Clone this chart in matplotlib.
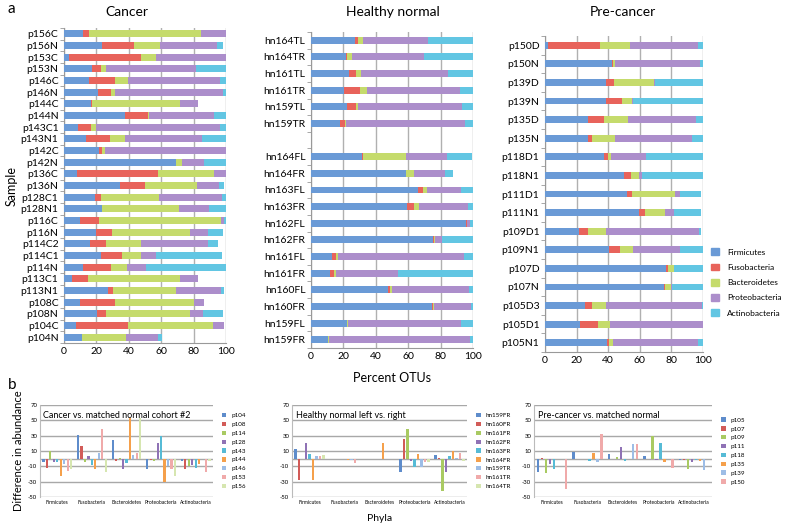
import matplotlib
matplotlib.use("Agg")
import matplotlib.pyplot as plt
import numpy as np

plt.rcParams['font.family'] = ['Lato', 'DejaVu Sans']

W, H = 794, 528

phyla = ['Firmicutes', 'Fusobacteria', 'Bacteroidetes', 'Proteobacteria', 'Actinobacteria']
phyla_colors = ['#6A9AD6', '#E8635B', '#C5DB6C', '#AC8ECB', '#62C6E3']

# --- panel a: cancer (top to bottom) ---
cancer_samples = ['p156C', 'p156N', 'p153C', 'p153N', 'p146C', 'p146N', 'p144C', 'p144N',
                  'p143C1', 'p143N1', 'p142C', 'p142N', 'p136C', 'p136N', 'p128C1', 'p128N1',
                  'p116C', 'p116N', 'p114C2', 'p114C1', 'p114N', 'p113C1', 'p113N1', 'p108C',
                  'p108N', 'p104C', 'p104N']
cancer_firm = [11.5, 23.3, 3, 17.5, 15.5, 20.8, 16.5, 37.9, 8.9, 13.6, 21.6, 69, 8.2, 34.6, 19.2,
               23.3, 9.9, 19.8, 16.1, 22.9, 12, 5.2, 27.4, 9.9, 20.6, 7.2, 10.9]
cancer_fuso = [4, 20, 44.4, 5.4, 16, 8.2, 0.8, 13.9, 7.6, 14.9, 2.1, 0.2, 49.8, 15.5, 3.5,
               0.2, 11.7, 10.1, 9.9, 13, 17, 9.4, 2.7, 21.6, 5.4, 32.2, 0]
cancer_bact = [69.2, 15.7, 9.5, 2.9, 7.7, 2.5, 54, 0.8, 3.5, 9.2, 1.9, 3.8, 34.8, 31.9, 35.7,
               47.6, 75.3, 47.6, 21.6, 11.7, 9.6, 57.2, 38.8, 48.9, 51.9, 52.4, 27.5]
cancer_prot = [15.3, 35.4, 43.1, 55.8, 57.3, 66.4, 11.4, 39.8, 76.3, 47.5, 74.4, 13.6, 7.2, 13.7,
               39.3, 18.6, 2.1, 11.6, 41.5, 9.3, 12.1, 10.7, 28, 6.2, 7.7, 6.8, 19.7]
cancer_acti = [0, 3.7, 0, 18.4, 3.5, 2.1, 0, 7.6, 3.7, 14.8, 0, 13.4, 0, 3.3, 2.3,
               10.3, 1, 9, 5.7, 40.8, 49.3, 0, 2.1, 0, 12.5, 0, 2.7]

# --- panel a: healthy normal (blank row separates T and F) ---
healthy_samples = ['hn164TL', 'hn164TR', 'hn161TL', 'hn161TR', 'hn159TL', 'hn159TR', '',
                   'hn164FL', 'hn164FR', 'hn163FL', 'hn163FR', 'hn162FL', 'hn162FR',
                   'hn161FL', 'hn161FR', 'hn160FL', 'hn160FR', 'hn159FL', 'hn159FR']
healthy_firm = [27.3, 21.5, 23.6, 20.2, 22.3, 17.8, 0, 31.6, 58.7, 66.1, 59.1, 95.9, 75.6,
                12.8, 11.6, 47.7, 74.6, 22.3, 10.5]
healthy_fuso = [1.8, 0.8, 4.1, 10, 5.2, 2.9, 0, 0.2, 0, 3.1, 4.5, 0.3, 0.4, 2.5, 2.7, 1.1,
                0.4, 0.2, 0.3]
healthy_bact = [2.7, 2.9, 3.3, 4.1, 1.8, 0.6, 0, 26.9, 4.9, 2.7, 2.9, 0.3, 0.4, 1.6, 1, 1,
                1, 0.6, 0.4]
healthy_prot = [40.5, 44.6, 53.5, 57.8, 64.1, 73.9, 0, 25.2, 19, 20.5, 30.6, 1.4, 4.4, 77.7,
                38.4, 47.9, 23, 69.5, 86.7]
healthy_acti = [27.7, 30.2, 15.5, 7.9, 6.6, 4.8, 0, 15.3, 4.8, 7.6, 2.9, 2.1, 19.2, 5.4,
                46.3, 2.3, 1, 7.4, 2.1]

# --- panel a: pre-cancer ---
pre_samples = ['p150D', 'p150N', 'p139D', 'p139N', 'p135D', 'p135N', 'p118D1', 'p118N1',
               'p111D1', 'p111N1', 'p109D1', 'p109N1', 'p107D', 'p107N', 'p105D3', 'p105D1',
               'p105N1']
pre_firm = [1.9, 42.7, 38.7, 38.7, 27.5, 27.1, 37.4, 50.3, 51.8, 59.6, 21.4, 40.6, 76.5, 75.5,
            25.4, 22.2, 39.5]
pre_fuso = [32.6, 0.5, 5.1, 9.9, 10.1, 2.7, 2.6, 4.2, 3.4, 4, 6.1, 7, 1.1, 0.6, 4.2, 11.4, 1.3]
pre_bact = [19.6, 0.8, 24.9, 6.6, 15, 14.6, 1.6, 4.7, 26.8, 12.1, 11.2, 8.4, 3.8, 3.8, 8.9,
            7.6, 2.1]
pre_prot = [42.9, 54.1, 1.1, 0.4, 43, 48.4, 22.4, 2.1, 3.6, 5.7, 59, 29.6, 0.2, 0.4, 60.7,
            58.8, 54.1]
pre_acti = [3, 1.9, 30.2, 44.4, 4.4, 7.2, 36, 38.7, 13.3, 17.5, 1.2, 14.4, 18.4, 19.7, 0.8,
            0, 3]

# --- panel b: differences in abundance ---
diff_phyla = ['Firmicutes', 'Fusobacteria', 'Bacteroidetes', 'Proteobacteria', 'Actinobacteria']

cohort2_series = ['p104', 'p108', 'p114', 'p128', 'p143', 'p144', 'p146', 'p153', 'p156']
cohort2_values = [
    [-4, 31, 24, -14, -3],     # p104
    [-12, 16, -3, -2, -13],    # p108
    [10, -5, 1, -3, -9],       # p114
    [-5, 3, -13, 21, -8],      # p128
    [-5, -8, -6, 29, -12],     # p143
    [-23, -13, 53, -30, -7],   # p144
    [-7, 7, 5, -10, 0],        # p146
    [-16, 39, 7, -14, -18],    # p153
    [-13, -17, 53, -22, -3],   # p156
]

hlr_series = ['hn159FR', 'hn160FR', 'hn161FR', 'hn162FR', 'hn163FR', 'hn164FR',
              'hn159TR', 'hn161TR', 'hn164TR']
hlr_values = [
    [12, -1, 0, -18, 5],
    [-28, -1, 0, 25, 1],
    [0, -0.5, 0, 39, -42],
    [20, -1, 0, -3, -18],
    [6, -0.5, 0, -11, 4],
    [-28, -1.5, 21, 6, 10],
    [4, -2, -1, -11, 1],
    [3, -6, 0, -5, 7],
    [5, 0, 0, -5, -3],
]

pcn_series = ['p105', 'p107', 'p109', 'p111', 'p118', 'p135', 'p139', 'p150']
pcn_values = [
    [-17, 9, 6, 4, -2],
    [0.5, -1, 0, 0, -2],
    [-19, -1, 2, 30, -13],
    [-7, -1, 15, -2, -5],
    [-13, -3, -3, 20, -2],
    [0, 7, 0, -5, -3],
    [0, -5, 19, 0, -15],
    [-40, 32, 19, -12, 0],
]

diff_colors = ['#5E8CCB', '#D25B58', '#A9CA62', '#8F72B5', '#56BBD6', '#F5A04B',
               '#9DBDE6', '#F0AAAA', '#D6E6B0']


def px_axes(fig, x0, y0, x1, y1):
    return fig.add_axes([x0 / W, 1 - y1 / H, (x1 - x0) / W, (y1 - y0) / H])


def stacked_panel(ax, samples, parts, bar_h):
    n = len(samples)
    y = np.arange(n)
    left = np.zeros(n)
    for vals, col in zip(parts, phyla_colors):
        vals = np.array(vals, dtype=float)
        ax.barh(y, vals, left=left, height=bar_h, color=col, edgecolor='none', zorder=3)
        left += vals
    ax.set_ylim(n - 0.5, -0.5)
    ax.set_xlim(0, 100)
    ax.set_xticks([0, 20, 40, 60, 80, 100])
    ax.set_yticks(y)
    ax.set_yticklabels(samples, fontsize=7.5)
    ax.set_yticks(np.arange(n + 1) - 0.5, minor=True)
    ax.tick_params(axis='y', which='major', length=0, pad=4)
    ax.tick_params(axis='y', which='minor', length=3, color='#999999', direction='out')
    ax.tick_params(axis='x', length=0, labelsize=7.5, pad=3)
    ax.grid(axis='x', color='#B0B0B0', linewidth=1.0, zorder=0)
    for s in ['top', 'right']:
        ax.spines[s].set_visible(False)
    ax.spines['left'].set_color('#999999')
    ax.spines['bottom'].set_color('#999999')


def diff_panel(ax, series, values, title):
    ns = len(series)
    x = np.arange(len(diff_phyla))
    pitch = 0.9 / ns
    for i, (name, vals) in enumerate(zip(series, values)):
        ax.bar(x - 0.45 + pitch * (i + 0.5), vals, width=pitch * 0.62,
               color=diff_colors[i], edgecolor='none', label=name, zorder=3)
    ax.set_ylim(-50, 70)
    ax.set_xlim(-0.5, len(diff_phyla) - 0.5)
    ax.set_yticks([-50, -30, -10, 10, 30, 50, 70])
    ax.set_yticklabels(['-50', '-30', '-10', '10', '30', '50', '70'])
    ax.set_xticks(x)
    ax.set_xticklabels(diff_phyla, fontsize=3.5)
    ax.tick_params(axis='y', length=0, labelsize=4.3, pad=2)
    ax.tick_params(axis='x', length=0, pad=2.5)
    ax.grid(axis='y', color='#A8A8A8', linewidth=1.0, zorder=0)
    ax.axhline(0, color='#A8A8A8', linewidth=1.0, zorder=1)
    for s in ['top', 'right', 'bottom']:
        ax.spines[s].set_visible(False)
    ax.spines['left'].set_color('#BBBBBB')
    ax.text(0.02, 0.94, title, transform=ax.transAxes, fontsize=6.5, va='top', ha='left')
    ax.legend(loc='center left', bbox_to_anchor=(1.02, 0.5), fontsize=4.5, frameon=False,
              handlelength=0.7, handleheight=0.7, labelspacing=0.55, handletextpad=0.8)


fig = plt.figure(figsize=(W / 100, H / 100), dpi=100)

ax1 = px_axes(fig, 64, 28, 226, 343)
stacked_panel(ax1, cancer_samples,
              [cancer_firm, cancer_fuso, cancer_bact, cancer_prot, cancer_acti], 0.6)
ax1.set_ylabel('Sample', fontsize=9, labelpad=2)

ax2 = px_axes(fig, 311, 32, 473, 348)
stacked_panel(ax2, healthy_samples,
              [healthy_firm, healthy_fuso, healthy_bact, healthy_prot, healthy_acti], 0.42)
ax2.set_xlabel('Percent OTUs', fontsize=9, labelpad=8)

ax3 = px_axes(fig, 545, 36, 703, 352)
stacked_panel(ax3, pre_samples, [pre_firm, pre_fuso, pre_bact, pre_prot, pre_acti], 0.37)
handles = [plt.Rectangle((0, 0), 1, 1, color=c) for c in phyla_colors]
ax3.legend(handles, phyla, loc='center left', bbox_to_anchor=(1.03, 0.22), fontsize=6,
           frameon=False, handlelength=0.9, handleheight=0.9, labelspacing=0.95,
           handletextpad=1.0, borderaxespad=0)

fig.text(127 / W, 1 - 12 / H, 'Cancer', fontsize=10, ha='center', va='center')
fig.text(393 / W, 1 - 12 / H, 'Healthy normal', fontsize=10, ha='center', va='center')
fig.text(623 / W, 1 - 12 / H, 'Pre-cancer', fontsize=10, ha='center', va='center')

fig.text(8 / W, 1 - 9 / H, 'a', fontsize=11, va='center')
fig.text(8 / W, 1 - 385 / H, 'b', fontsize=11, va='center')

bx1 = px_axes(fig, 40, 405, 213, 497)
diff_panel(bx1, cohort2_series, cohort2_values, 'Cancer vs. matched normal cohort #2')
bx1.set_ylabel('Difference in abundance', fontsize=8, labelpad=3)

bx2 = px_axes(fig, 292, 405, 467, 497)
diff_panel(bx2, hlr_series, hlr_values, 'Healthy normal left vs. right')
bx2.set_xlabel('Phyla', fontsize=7.5, labelpad=6)

bx3 = px_axes(fig, 534, 405, 712, 497)
diff_panel(bx3, pcn_series, pcn_values, 'Pre-cancer vs. matched normal')

fig.savefig('out.png', dpi=100)
